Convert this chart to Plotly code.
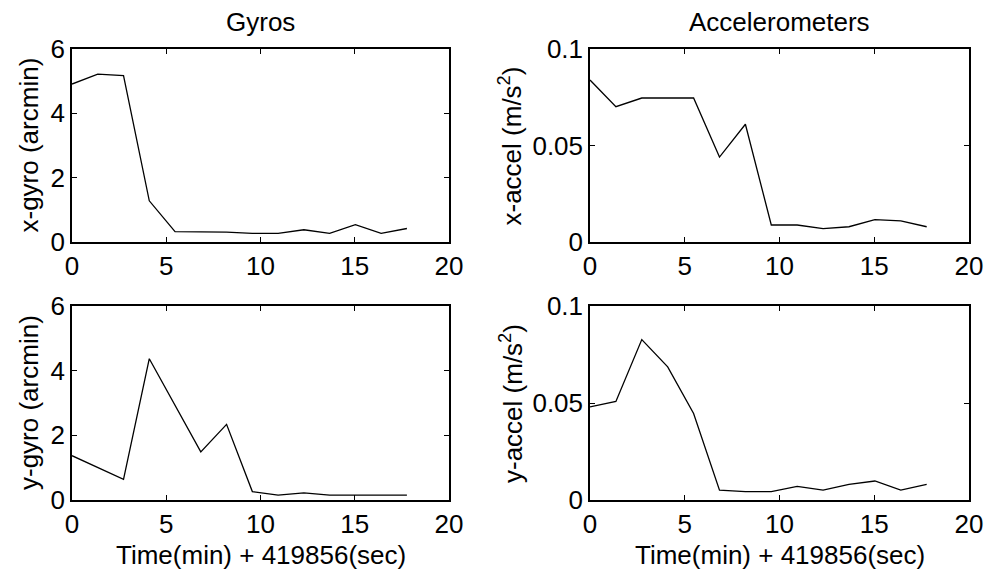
import plotly.graph_objects as go
from plotly.subplots import make_subplots

time_min = [0, 1.367, 2.733, 4.1, 5.467, 6.833, 8.2, 9.567, 10.933, 12.3, 13.667, 15.033, 16.4, 17.767]
x_gyro = [4.91, 5.22, 5.17, 1.28, 0.32, 0.32, 0.31, 0.27, 0.27, 0.38, 0.27, 0.54, 0.27, 0.42]
y_gyro = [1.37, 1.0, 0.64, 4.37, 2.93, 1.49, 2.34, 0.26, 0.15, 0.22, 0.15, 0.15, 0.15, 0.15]
x_accel = [0.0839, 0.0701, 0.0746, 0.0746, 0.0746, 0.044, 0.061, 0.0088, 0.0088, 0.0069, 0.0079, 0.0116, 0.0109, 0.0079]
y_accel = [0.048, 0.0508, 0.0827, 0.0686, 0.0446, 0.0051, 0.0043, 0.0043, 0.007, 0.0051, 0.0081, 0.0098, 0.0051, 0.0081]

col_titles = ["Gyros", "Accelerometers"]
y_labels = ["x-gyro (arcmin)", "x-accel (m/s<sup>2</sup>)", "y-gyro (arcmin)", "y-accel (m/s<sup>2</sup>)"]
x_label = "Time(min) + 419856(sec)"
x_ticks = [0, 5, 10, 15, 20]
gyro_ticks = [0, 2, 4, 6]
accel_ticks = [0, 0.05, 0.1]
accel_ticklabels = ["0", "0.05", "0.1"]

W, H = 987, 580
FONT = "Liberation Sans, Arial, sans-serif"
FS = 26

fig = make_subplots(rows=2, cols=2)
series = [(1, 1, x_gyro), (1, 2, x_accel), (2, 1, y_gyro), (2, 2, y_accel)]
for r, c, vals in series:
    fig.add_trace(go.Scatter(x=time_min, y=vals, mode="lines",
                             line=dict(color="black", width=1.3),
                             showlegend=False, hoverinfo="skip"), row=r, col=c)

xdom = [[72 / W, 449 / W], [590 / W, 969 / W]]
ydom = [[1 - 242 / H, 1 - 49 / H], [1 - 500 / H, 1 - 306 / H]]

axis_common = dict(showline=True, linecolor="black", linewidth=1.5, mirror="ticks",
                   ticks="inside", ticklen=5, tickwidth=1, tickcolor="black",
                   showgrid=False, zeroline=False, automargin=False,
                   tickfont=dict(family=FONT, size=FS, color="black"))

for i, (r, c, vals) in enumerate(series):
    idx = i + 1
    xa = "xaxis" if idx == 1 else f"xaxis{idx}"
    ya = "yaxis" if idx == 1 else f"yaxis{idx}"
    fig.layout[xa].update(domain=xdom[c - 1], range=[0, 20], tickvals=x_ticks, **axis_common)
    if c == 1:
        fig.layout[ya].update(domain=ydom[r - 1], range=[0, 6], tickvals=gyro_ticks, **axis_common)
    else:
        fig.layout[ya].update(domain=ydom[r - 1], range=[0, 0.1], tickvals=accel_ticks,
                              ticktext=accel_ticklabels, **axis_common)

annots = []
title_x = [(xdom[0][0] + xdom[0][1]) / 2, (xdom[1][0] + xdom[1][1]) / 2]
for k, t in enumerate(col_titles):
    annots.append(dict(text=t, x=title_x[k], y=1 - 22 / H, xref="paper", yref="paper",
                       showarrow=False, xanchor="center", yanchor="middle",
                       font=dict(family=FONT, size=FS, color="black")))
ylab_x = [29 / W, 511 / W]
for i, (r, c, vals) in enumerate(series):
    yc = (ydom[r - 1][0] + ydom[r - 1][1]) / 2
    annots.append(dict(text=y_labels[i], x=ylab_x[c - 1], y=yc, xref="paper", yref="paper",
                       showarrow=False, textangle=-90, xanchor="center", yanchor="middle",
                       font=dict(family=FONT, size=FS, color="black")))
for c in range(2):
    annots.append(dict(text=x_label, x=title_x[c], y=1 - 555 / H, xref="paper", yref="paper",
                       showarrow=False, xanchor="center", yanchor="middle",
                       font=dict(family=FONT, size=FS, color="black")))

fig.update_layout(width=W, height=H, margin=dict(l=0, r=0, t=0, b=0, autoexpand=False),
                  paper_bgcolor="white", plot_bgcolor="white", annotations=annots,
                  font=dict(family=FONT, size=FS, color="black"))

fig.write_html("out.html", config={"displayModeBar": False},
               post_script="document.body.style.margin='0';document.body.style.overflow='hidden';")
